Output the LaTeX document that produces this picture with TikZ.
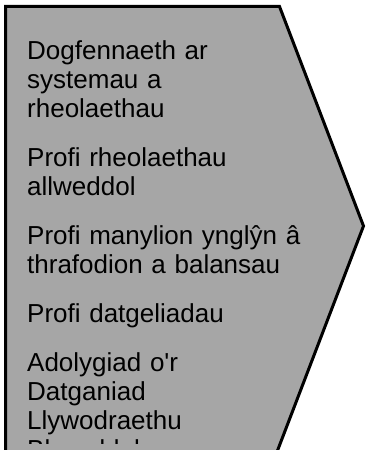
\documentclass[tikz,border=0pt]{standalone}
\usepackage{fontspec}
\setmainfont{Liberation Sans}
\usetikzlibrary{positioning}
\definecolor{chevgray}{gray}{0.65}
\tikzset{
  chevron/.style={draw=black,line width=3pt,fill=chevgray,miter limit=10},
  itemtext/.style={anchor=north west,inner sep=0pt,text width=320pt,align=left,
    font=\fontsize{26}{29}\selectfont\setlength{\parskip}{20pt}\setlength{\parindent}{0pt}}
}

\begin{document}
\begin{tikzpicture}[x=1pt,y=1pt]
  \useasboundingbox (0,0) rectangle (366,450);
  \draw[chevron] (5.5,-10) -- (5.5,443.5) -- (279.5,443.5) -- (363.5,224) -- (273.9,-10);
  % list of steps, last line cut off by the box
  \begin{scope}
    \clip (0,6) rectangle (366,450);
    \node[itemtext] (steps) at (27,409.8) {%
      Dogfennaeth ar\\systemau a\\rheolaethau\par
      Profi rheolaethau\\allweddol\par
      Profi manylion ynglŷn â\\thrafodion a balansau\par
      Profi datgeliadau\par
      Adolygiad o\textquotesingle r\\Datganiad\\Llywodraethu\\Blynyddol};
  \end{scope}
\end{tikzpicture}
\end{document}
